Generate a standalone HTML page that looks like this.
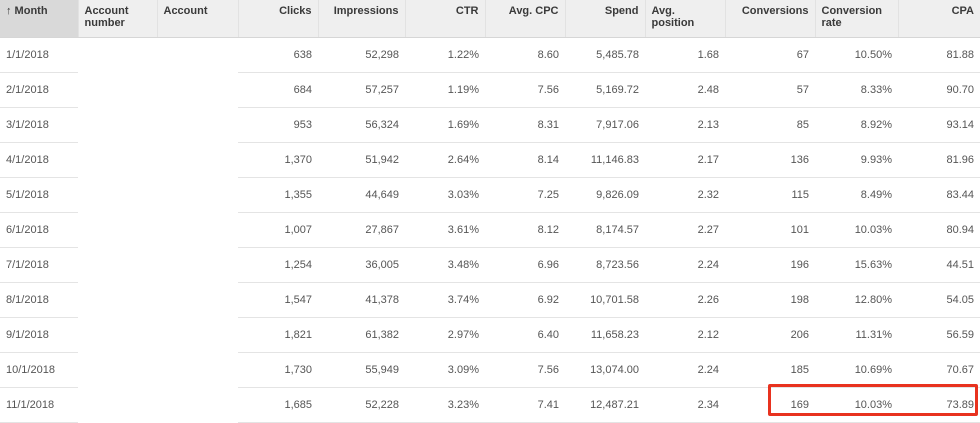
<!DOCTYPE html>
<html><head><meta charset="utf-8"><style>
body{margin:0;width:980px;height:419px;overflow:hidden;background:#fff;font-family:"Liberation Sans",Arial,sans-serif;font-size:11px;color:#444;position:relative}
table{border-collapse:collapse;table-layout:fixed;width:980px;position:absolute;left:0;top:0}
th{height:37px;background:#efefef;font-weight:bold;vertical-align:top;padding:5px 6px 0;text-align:right;border-left:1px solid #e2e2e2;box-sizing:border-box;line-height:12px;color:#3a3a3a;border-bottom:1px solid #d6d6d6}
th.l{text-align:left}
th.m{background:#d9d9d9;border-left:none}
td{height:35px;padding:0 6px;text-align:right;box-sizing:border-box;border-bottom:1px solid #e4e4e4;color:#555}
td.l{text-align:left}
td.b{border-bottom:1px solid #fff}
#box{position:absolute;left:768px;top:384px;width:210px;height:32px;border:3px solid #e8321f;box-sizing:border-box;border-radius:2px}
</style></head><body>
<table>
<colgroup><col style="width:78px"><col style="width:79px"><col style="width:81px"><col style="width:80px"><col style="width:87px"><col style="width:80px"><col style="width:80px"><col style="width:80px"><col style="width:80px"><col style="width:90px"><col style="width:83px"><col style="width:82px"></colgroup>
<thead><tr>
<th class="l m">↑ Month</th>
<th class="l">Account number</th>
<th class="l">Account</th>
<th>Clicks</th>
<th>Impressions</th>
<th>CTR</th>
<th>Avg. CPC</th>
<th>Spend</th>
<th class="l">Avg. position</th>
<th>Conversions</th>
<th class="l">Conversion rate</th>
<th>CPA</th>
</tr></thead>
<tbody id="tb"></tbody></table>
<div id="box"></div>
<script>
var months=["1/1/2018","2/1/2018","3/1/2018","4/1/2018","5/1/2018","6/1/2018","7/1/2018","8/1/2018","9/1/2018","10/1/2018","11/1/2018"];
var clicks=["638","684","953","1,370","1,355","1,007","1,254","1,547","1,821","1,730","1,685"];
var impressions=["52,298","57,257","56,324","51,942","44,649","27,867","36,005","41,378","61,382","55,949","52,228"];
var ctr=["1.22%","1.19%","1.69%","2.64%","3.03%","3.61%","3.48%","3.74%","2.97%","3.09%","3.23%"];
var cpc=["8.60","7.56","8.31","8.14","7.25","8.12","6.96","6.92","6.40","7.56","7.41"];
var spend=["5,485.78","5,169.72","7,917.06","11,146.83","9,826.09","8,174.57","8,723.56","10,701.58","11,658.23","13,074.00","12,487.21"];
var pos=["1.68","2.48","2.13","2.17","2.32","2.27","2.24","2.26","2.12","2.24","2.34"];
var conv=["67","57","85","136","115","101","196","198","206","185","169"];
var rate=["10.50%","8.33%","8.92%","9.93%","8.49%","10.03%","15.63%","12.80%","11.31%","10.69%","10.03%"];
var cpa=["81.88","90.70","93.14","81.96","83.44","80.94","44.51","54.05","56.59","70.67","73.89"];
var tb=document.getElementById('tb');
months.forEach(function(m,i){
var tr=document.createElement('tr');


var vals=[m,"","",clicks[i],impressions[i],ctr[i],cpc[i],spend[i],pos[i],conv[i],rate[i],cpa[i]];
var names=["month","account-number","account","clicks","impressions","ctr","avg-cpc","spend","avg-position","conversions","conversion-rate","cpa"];
vals.forEach(function(v,j){
var td=document.createElement('td');


if(j==0)td.className='l';
if(j==1||j==2)td.className='b';
td.textContent=v;tr.appendChild(td);});
tb.appendChild(tr);});
</script>
</body></html>
